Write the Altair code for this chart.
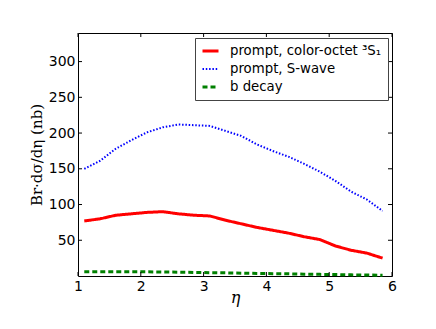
import altair as alt
import pandas as pd

eta = [1.1, 1.35, 1.6, 1.85, 2.1, 2.35, 2.6, 2.85, 3.1, 3.35, 3.6, 3.85, 4.1, 4.35, 4.6, 4.85, 5.1, 5.35, 5.6, 5.85]
octet = [77, 80, 85, 87, 89, 90, 87, 85, 84, 78, 73, 68, 64, 60, 55, 51, 42, 36, 32, 25]
swave = [150, 161, 178, 190, 201, 208, 212, 211, 210, 203, 196, 184, 175, 167, 157, 146, 133, 118, 107, 91]
bdecay = [6, 6, 6, 6, 5.8, 5.6, 5.4, 5, 4.7, 4.4, 4, 3.6, 3.3, 3, 2.6, 2.3, 2, 1.6, 1.3, 1.1]

series_names = ["prompt, color-octet \u00b3S\u2081", "prompt, S-wave", "b decay"]
series_colors = ["#ff0000", "#0000ff", "#008000"]
series_dashes = [[1, 0], [1.5, 1.8], [5, 3]]
series_widths = [3, 2, 3]

x_ticks = [1, 2, 3, 4, 5, 6]
y_ticks = [50, 100, 150, 200, 250, 300]

rows = []
for name, vals in zip(series_names, [octet, swave, bdecay]):
    for e, v in zip(eta, vals):
        rows.append({"series": name, "eta": e, "value": v})
df = pd.DataFrame(rows)

W, H = 314, 243
xscale = alt.Scale(domain=[1, 6], nice=False, zero=False)
yscale = alt.Scale(domain=[0, 340], nice=False, zero=False)

legend = alt.Legend(
    title=None, orient="none", legendX=117, legendY=5,
    fillColor="white", strokeColor="#444444", padding=6, cornerRadius=0,
    symbolType="stroke", symbolSize=256, labelFont="DejaVu Sans", labelFontSize=13.3,
    labelColor="black", labelOffset=10, rowPadding=4, clipHeight=14,
)

lines = alt.Chart(df).mark_line().encode(
    x=alt.X("eta:Q", scale=xscale,
            axis=alt.Axis(values=x_ticks, format="d", title="\u03b7", titleFont="DejaVu Serif",
                          titleFontStyle="italic", titleFontWeight="normal", titleFontSize=16,
                          titleY=26, titleBaseline="alphabetic")),
    y=alt.Y("value:Q", scale=yscale,
            axis=alt.Axis(values=y_ticks, format="d", title="Br\u00b7d\u03c3/d\u03b7 (nb)", titleFont="DejaVu Serif",
                          titleFontWeight="normal", titleFontSize=15, titleX=-42, titleY=H / 2,
                          titleAlign="center", titleBaseline="middle", titleAngle=-90)),
    color=alt.Color("series:N", scale=alt.Scale(domain=series_names, range=series_colors), legend=legend),
    strokeDash=alt.StrokeDash("series:N", scale=alt.Scale(domain=series_names, range=series_dashes), legend=legend),
    strokeWidth=alt.StrokeWidth("series:N", scale=alt.Scale(type="ordinal", domain=series_names, range=series_widths), legend=legend),
)

xt = pd.DataFrame({"t": x_ticks})
yt = pd.DataFrame({"t": y_ticks})
tick_color = "black"
xb = alt.Chart(xt).mark_rule(color=tick_color).encode(x=alt.X("t:Q", scale=xscale), y=alt.value(H), y2=alt.value(H - 4))
xtop = alt.Chart(xt).mark_rule(color=tick_color).encode(x=alt.X("t:Q", scale=xscale), y=alt.value(0), y2=alt.value(4))
yl = alt.Chart(yt).mark_rule(color=tick_color).encode(y=alt.Y("t:Q", scale=yscale), x=alt.value(0), x2=alt.value(4))
yr = alt.Chart(yt).mark_rule(color=tick_color).encode(y=alt.Y("t:Q", scale=yscale), x=alt.value(W), x2=alt.value(W - 4))

chart = alt.layer(lines, xb, xtop, yl, yr).properties(
    width=W, height=H,
    autosize=alt.AutoSizeParams(type="none"),
    padding={"left": 70, "top": 25, "right": 36, "bottom": 45},
).configure_view(stroke="black", strokeWidth=1).configure_axis(
    domain=False, ticks=False, tickSize=0, grid=False,
    labelFont="DejaVu Sans", labelFontSize=14, labelColor="black", labelPadding=3,
    titleColor="black",
).configure_axisX(labelFlush=False).configure_axisY(labelFlush=False)

chart.save("out.html", embed_options={"renderer": "svg", "actions": False})
